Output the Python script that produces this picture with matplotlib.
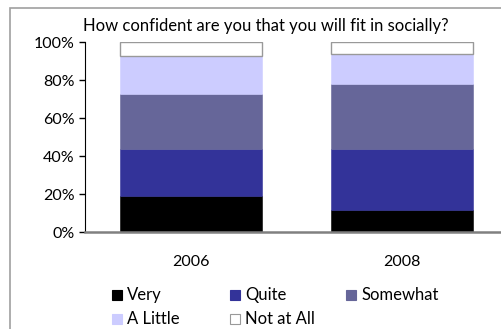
import matplotlib.pyplot as plt
from matplotlib.patches import Rectangle

plt.rcParams['font.family'] = ['Lato', 'DejaVu Sans']

years = ['2006', '2008']
levels = ['Very', 'Quite', 'Somewhat', 'A Little', 'Not at All']
shares = {
    'Very':       [19, 12],
    'Quite':      [25, 32],
    'Somewhat':   [29, 34],
    'A Little':   [20, 16],
    'Not at All': [7, 6],
}
fills = ['#000000', '#333399', '#666699', '#ccccff', '#ffffff']
edges = ['#000000', '#333399', '#666699', '#ccccff', '#999999']

W, H = 502, 329
fig = plt.figure(figsize=(W / 100, H / 100), dpi=100)
# outer chart frame, runs off the right and bottom edge
fig.patches.append(Rectangle((10 / W, -0.1), 1.2, 1 - 8 / H + 0.1,
                             transform=fig.transFigure, fill=False,
                             edgecolor='#a0a0a0', linewidth=1.2))

ax = fig.add_axes([85.5 / W, 96.7 / H, 422 / W, 190 / H])
x = range(len(years))
bottom = [0, 0]
for lvl, fc, ec in zip(levels, fills, edges):
    vals = shares[lvl]
    ax.bar(x, vals, width=0.673, bottom=bottom, color=fc, edgecolor=ec,
           linewidth=1.0 if lvl == 'Not at All' else 0.4, label=lvl)
    bottom = [b + v for b, v in zip(bottom, vals)]

ax.set_xlim(-0.5, 1.5)
ax.set_ylim(0, 100)
ax.set_yticks([0, 20, 40, 60, 80, 100])
ax.set_yticklabels(['0%', '20%', '40%', '60%', '80%', '100%'], fontsize=11.5)
ax.set_xticks(list(x))
ax.set_xticklabels(years, fontsize=11.5)
ax.tick_params(axis='x', length=0, pad=16)
ax.tick_params(axis='y', length=4, width=1, direction='out', pad=4)
for s in ['top', 'right']:
    ax.spines[s].set_visible(False)
ax.spines['left'].set_color('black')
ax.spines['bottom'].set_color('#808080')
ax.spines['bottom'].set_linewidth(1.8)

fig.text(266 / W, 1 - 26 / H, 'How confident are you that you will fit in socially?',
         ha='center', va='center', fontsize=12)

# legend laid out in fixed-width columns, row by row
col_x = [112, 230, 346]
row_y = [295, 319]
for i, (lvl, fc, ec) in enumerate(zip(levels, fills, edges)):
    cx, cy = col_x[i % 3], row_y[i // 3]
    fig.patches.append(Rectangle((cx / W, 1 - (cy + 5) / H), 10 / W, 10 / H,
                                 transform=fig.transFigure, facecolor=fc,
                                 edgecolor=ec, linewidth=0.8))
    fig.text((cx + 15) / W, 1 - cy / H, lvl, ha='left', va='center', fontsize=12)

plt.savefig('out.png', dpi=100)
